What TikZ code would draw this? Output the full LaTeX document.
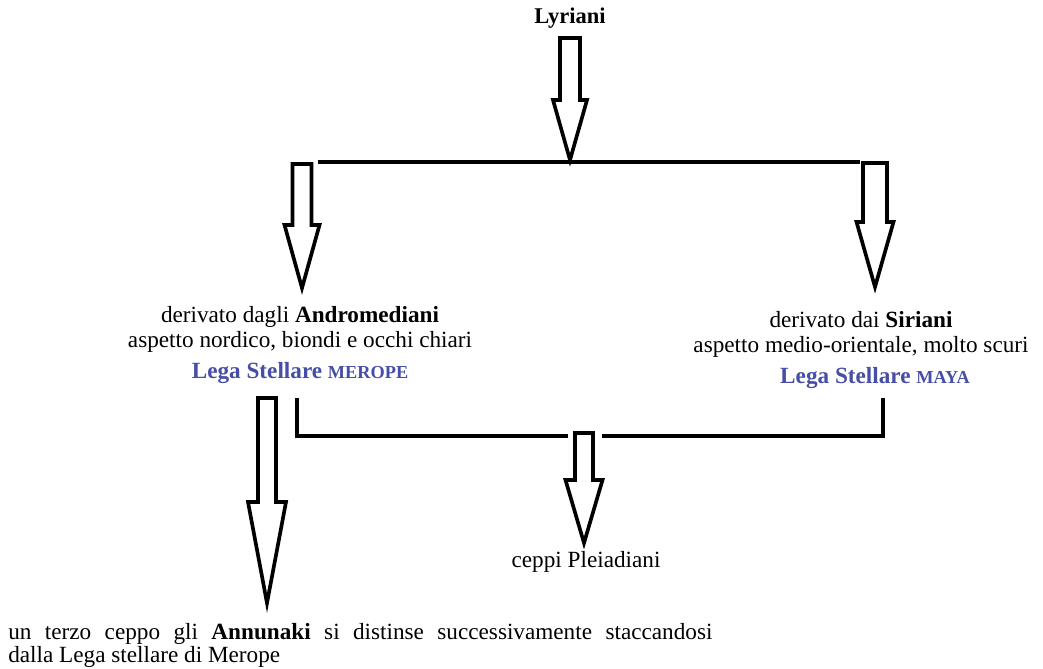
\documentclass[tikz,border=0pt]{standalone}
\usepackage{fontspec}
\setmainfont{Liberation Serif}
\usetikzlibrary{positioning}
\definecolor{legablue}{RGB}{70,78,165}

% hollow block arrow: x, top, head start, tip, half shaft, half head
\newcommand{\blockarrow}[6]{
  \draw[blockline] (#1-#5,#2) -- (#1+#5,#2) -- (#1+#5,#3) -- (#1+#6,#3)
    -- (#1,#4) -- (#1-#6,#3) -- (#1-#5,#3) -- cycle;
}
\newcommand{\smallcap}[1]{{\fontsize{13}{15}\selectfont #1}}

\begin{document}
\begin{tikzpicture}[x=0.025cm, y=-0.025cm]
    \tikzset{
        txt/.style = {font=\fontsize{16.5}{20}\selectfont, inner sep=0pt,
                      text height=11pt, text depth=3.5pt},
        lega/.style = {txt, text=legablue, font=\fontsize{16.5}{20}\selectfont\bfseries},
        bar/.style = {line width=2.8pt},
        blockline/.style = {line width=2.6pt, line join=miter}
    }
    \useasboundingbox (0,0) rectangle (1043,669);

    \node[txt, font=\fontsize{16}{19}\selectfont\bfseries] (lyr) at (570,18) {Lyriani};

    \node[txt] (andr) at (300,317) {derivato dagli \textbf{Andromediani}};
    \node[txt, below=3.3pt of andr] (andrlook) {aspetto nordico, biondi e occhi chiari};
    \node[lega, below=6.8pt of andrlook] (merope) {Lega Stellare \smallcap{MEROPE}};

    \node[txt] (sir) at (861,322) {derivato dai \textbf{Siriani}};
    \node[txt, below=3.3pt of sir] (sirlook) {aspetto medio-orientale, molto scuri};
    \node[lega, below=6.8pt of sirlook, xshift=10pt] (maya) {Lega Stellare \smallcap{MAYA}};

    \node[txt] (pleia) at (586,562) {ceppi Pleiadiani};

    \node[txt, font=\fontsize{16.5}{15}\selectfont, anchor=north west,
          text width=17.6cm, align=justify, text depth=0pt]
        (annu) at (8,624) {un terzo ceppo gli \textbf{Annunaki} si distinse successivamente staccandosi\linebreak
        dalla Lega stellare di Merope};

    % junctions
    \coordinate (topl) at (318,162);
    \coordinate (topr) at (860,162);
    \coordinate (lowl) at (297,398);
    \coordinate (lowr) at (883,398);

    \draw[bar] (topl) -- (topr);
    \draw[bar] (lowl) |- (568,436);
    \draw[bar] (lowr) |- (602,436);

    \blockarrow{570}{38}{100}{160}{10}{17}
    \blockarrow{302}{164}{225}{288}{9.5}{17.5}
    \blockarrow{875}{163}{222}{287}{12}{18.5}
    \blockarrow{584}{433}{480}{543}{9}{18.5}
    \blockarrow{267}{398}{502}{603}{9}{19}
\end{tikzpicture}
\end{document}
